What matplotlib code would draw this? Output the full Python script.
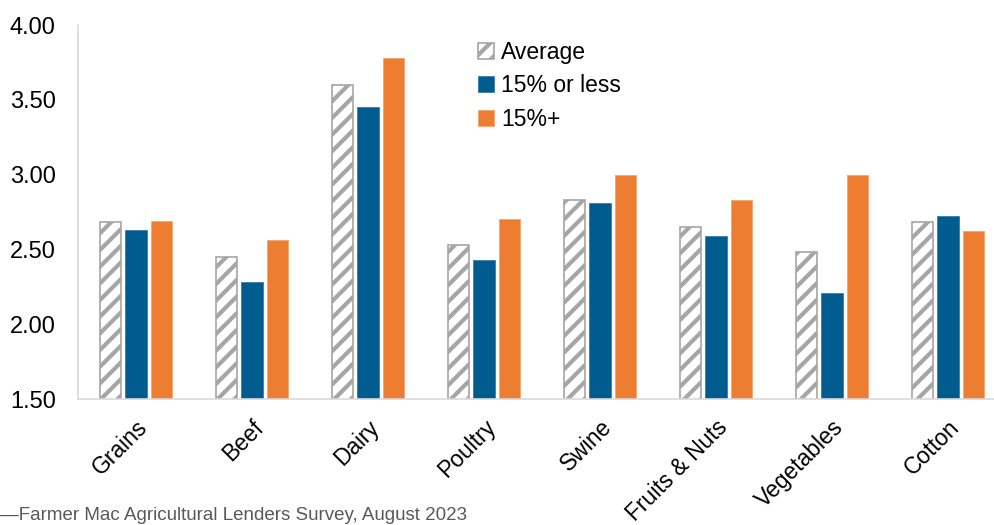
import numpy as np
import matplotlib
matplotlib.use("Agg")
import matplotlib.pyplot as plt

plt.rcParams['font.family'] = ['Liberation Sans', 'DejaVu Sans']
plt.rcParams['hatch.linewidth'] = 3.0
plt.rcParams['hatch.color'] = '#848484'

# values
categories = ["Grains", "Beef", "Dairy", "Poultry", "Swine", "Fruits & Nuts", "Vegetables", "Cotton"]
average = [2.68, 2.45, 3.60, 2.53, 2.83, 2.65, 2.48, 2.68]
low_share = [2.63, 2.28, 3.45, 2.43, 2.81, 2.59, 2.21, 2.72]
high_share = [2.69, 2.56, 3.78, 2.70, 3.00, 2.83, 3.00, 2.62]
series_names = ["Average", "15% or less", "15%+"]
yticks = [1.50, 2.00, 2.50, 3.00, 3.50, 4.00]

blue = '#005b8e'
orange = '#ed7d31'

fig = plt.figure(figsize=(9.95, 5.25), dpi=100)
# axes run past the right edge, as in the cropped reference
ax = fig.add_axes([78 / 995, 126 / 525, 928 / 995, 374 / 525])

x = np.arange(len(categories))
w = 0.185
step = 0.22
ax.bar(x - step, average, w, color='white', edgecolor='#a6a6a6',
       hatch='//', linewidth=1.2, label=series_names[0])
ax.bar(x, low_share, w, color=blue, edgecolor='#3a7aa8', linewidth=0.6, label=series_names[1])
ax.bar(x + step, high_share, w, color=orange, edgecolor='#f4a46e', linewidth=0.6, label=series_names[2])

ax.set_ylim(1.5, 4.0)
ax.set_xlim(-0.5, len(categories) - 0.5)
ax.set_yticks(yticks)
ax.set_yticklabels([f"{v:.2f}" for v in yticks], fontsize=17)
ax.set_xticks(x)
ax.set_xticklabels(categories, fontsize=16.5, rotation=45, ha='right', rotation_mode='anchor')
ax.tick_params(axis='both', length=0)
ax.tick_params(axis='y', pad=16)
ax.tick_params(axis='x', pad=12)

for s in ['top', 'right']:
    ax.spines[s].set_visible(False)
for s in ['left', 'bottom']:
    ax.spines[s].set_color('#d9d9d9')
    ax.spines[s].set_linewidth(1.2)

leg = ax.legend(loc='upper left', bbox_to_anchor=(384 / 928, 1.0), frameon=False,
                fontsize=16.5, handlelength=0.7, handleheight=0.7, handletextpad=0.3,
                labelspacing=0.45, borderaxespad=0.3)

fig.text(0.0, 0.002, "\u2014Farmer Mac Agricultural Lenders Survey, August 2023",
         fontsize=13.5, color='#595959', ha='left', va='bottom')

fig.savefig("out.png", dpi=100)
